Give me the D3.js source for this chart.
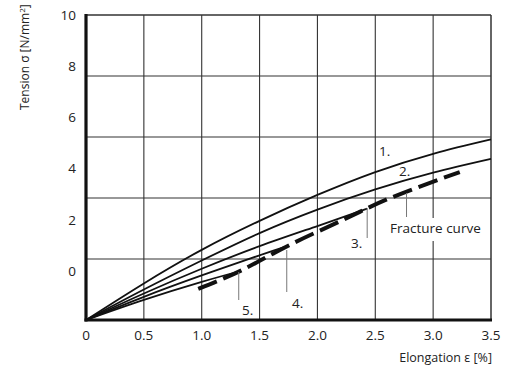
<!DOCTYPE html>
<html>
<head>
<meta charset="utf-8">
<script src="https://cdn.jsdelivr.net/npm/d3@7"></script>
<style>
  html, body { margin: 0; padding: 0; background: #fff; }
  svg { display: block; }
  text { font-family: "Open Sans", "DejaVu Sans", sans-serif; fill: #222; }
</style>
</head>
<body>
<svg id="chart" width="517" height="365"></svg>
<script>
// Stress–strain curves 1.–5. and the fracture curve
const xTicks = [0, 0.5, 1.0, 1.5, 2.0, 2.5, 3.0, 3.5];
const yTickLabels = [10, 8, 6, 4, 2, 0];
const yGrid = [2, 4, 6, 8];

const curve1E = [0, 0.5, 1.0, 1.5, 2.0, 2.5, 3.0, 3.5];
const curve1S = [0, 1.20, 2.30, 3.25, 4.10, 4.85, 5.45, 5.92];
const curve2E = [0, 0.5, 1.0, 1.5, 2.0, 2.5, 3.0, 3.5];
const curve2S = [0, 1.00, 1.95, 2.85, 3.62, 4.28, 4.83, 5.28];
const curve3E = [0, 0.5, 1.0, 1.5, 2.0, 2.43];
const curve3S = [0, 0.87, 1.68, 2.42, 3.08, 3.65];
const curve4E = [0, 0.5, 1.0, 1.5, 1.74];
const curve4S = [0, 0.76, 1.46, 2.12, 2.42];
const curve5E = [0, 0.5, 1.0, 1.32];
const curve5S = [0, 0.66, 1.25, 1.59];
const fractureE = [0.97, 1.35, 1.76, 2.22, 2.63, 3.23];
const fractureS = [1.02, 1.64, 2.46, 3.28, 4.00, 4.85];

const svg = d3.select("#chart");
const x = d3.scaleLinear().domain([0, 3.5]).range([86, 491]);
const y = d3.scaleLinear().domain([0, 10]).range([320, 15]);
// tick numbers of the stress axis sit on their own spacing
const yLab = d3.scaleLinear().domain([0, 10]).range([271, 15]);

const zip = (e, s) => e.map((v, i) => [v, s[i]]);
const line = d3.line().x(d => x(d[0])).y(d => y(d[1])).curve(d3.curveNatural);

// grid
const grid = svg.append("g").attr("stroke", "#333").attr("stroke-width", 1.1);
grid.selectAll("line.v").data(xTicks.slice(1, -1)).join("line")
  .attr("x1", d => x(d)).attr("x2", d => x(d)).attr("y1", y(10)).attr("y2", y(0));
grid.selectAll("line.h").data(yGrid).join("line")
  .attr("x1", x(0)).attr("x2", x(3.5)).attr("y1", d => y(d)).attr("y2", d => y(d));
// frame: thin top/right, heavy left/bottom axes
svg.append("line").attr("x1", x(0)).attr("x2", x(3.5)).attr("y1", y(10)).attr("y2", y(10))
  .attr("stroke", "#333").attr("stroke-width", 1.5);
svg.append("line").attr("x1", x(3.5)).attr("x2", x(3.5)).attr("y1", y(10)).attr("y2", y(0))
  .attr("stroke", "#333").attr("stroke-width", 1.5);

// curves
const curves = [zip(curve1E, curve1S), zip(curve2E, curve2S), zip(curve3E, curve3S),
                zip(curve4E, curve4S), zip(curve5E, curve5S)];
svg.append("g").selectAll("path").data(curves).join("path")
  .attr("d", line).attr("fill", "none").attr("stroke", "#111").attr("stroke-width", 1.8);

// fracture curve
svg.append("path").datum(zip(fractureE, fractureS))
  .attr("d", line).attr("fill", "none").attr("stroke", "#111")
  .attr("stroke-width", 4).attr("stroke-dasharray", "20 7");

// leader lines
const leaders = [
  { e: 1.32, y1: 272, y2: 300 },
  { e: 1.735, y1: 250, y2: 292 },
  { e: 2.43, y1: 208, y2: 238 },
  { e: 2.77, y1: 193, y2: 217 }
];
svg.append("g").selectAll("line").data(leaders).join("line")
  .attr("x1", d => x(d.e)).attr("x2", d => x(d.e))
  .attr("y1", d => d.y1).attr("y2", d => d.y2)
  .attr("stroke", "#777").attr("stroke-width", 1);

// labels
const fracLabel = svg.append("g");
fracLabel.append("rect").attr("x", 388).attr("y", 218).attr("width", 98).attr("height", 23).attr("fill", "#fff");
fracLabel.append("text").attr("x", 390).attr("y", 233).attr("font-size", 13.5).text("Fracture curve");

const curveLabels = [
  { t: "1.", x: 379, y: 156 },
  { t: "2.", x: 399, y: 176 },
  { t: "3.", x: 351, y: 248 },
  { t: "4.", x: 292, y: 308 },
  { t: "5.", x: 242, y: 315 }
];
svg.append("g").selectAll("text").data(curveLabels).join("text")
  .attr("x", d => d.x).attr("y", d => d.y).attr("font-size", 13.5).text(d => d.t);

// axes
svg.append("line").attr("x1", x(0)).attr("x2", x(0)).attr("y1", y(10) - 1).attr("y2", y(0) + 1.5)
  .attr("stroke", "#111").attr("stroke-width", 3.2);
svg.append("line").attr("x1", x(0) - 1.5).attr("x2", x(3.5) + 1).attr("y1", y(0)).attr("y2", y(0))
  .attr("stroke", "#111").attr("stroke-width", 3.2);

svg.append("g").selectAll("text").data(xTicks).join("text")
  .attr("x", d => x(d)).attr("y", 340).attr("text-anchor", "middle").attr("font-size", 13.5)
  .text(d => d === 0 ? "0" : d.toFixed(1));
svg.append("g").selectAll("text").data(yTickLabels).join("text")
  .attr("x", 76).attr("y", d => yLab(d)).attr("dy", "0.36em").attr("text-anchor", "end")
  .attr("font-size", 13.5).text(d => d);

svg.append("text").attr("x", 492).attr("y", 362).attr("text-anchor", "end").attr("font-size", 12.5)
  .text("Elongation ε [%]");
svg.append("text").attr("transform", "translate(29,110) rotate(-90)").attr("text-anchor", "start")
  .attr("font-size", 12)
  .html('Tension σ [N/mm<tspan dy="-4" font-size="8">2</tspan><tspan dy="4">]</tspan>');
</script>
</body>
</html>
